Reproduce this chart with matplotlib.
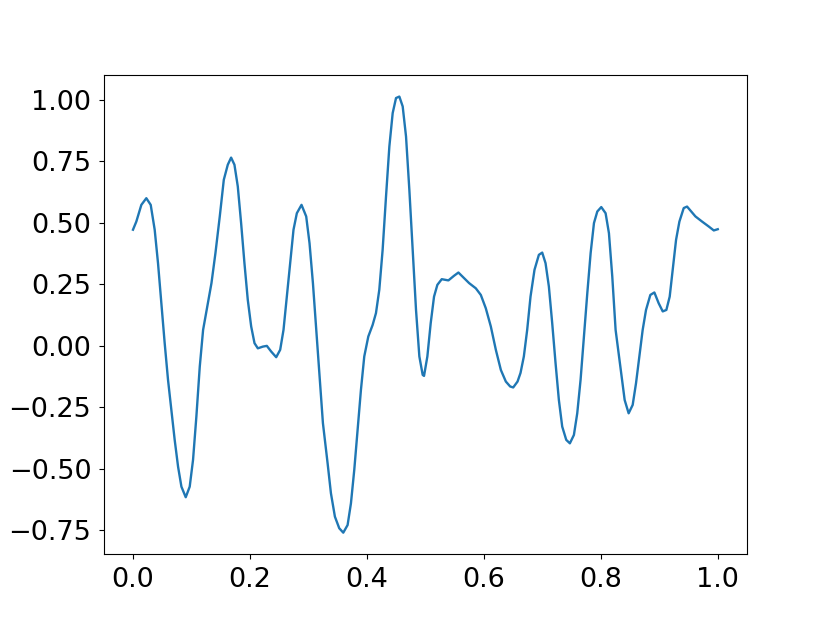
import matplotlib
matplotlib.use("Agg")
import matplotlib.pyplot as plt

# values
x = [0.000, 0.0057, 0.0143, 0.0228, 0.0303, 0.0371, 0.0428, 0.0485, 0.0542, 0.0599,
     0.0656, 0.0713, 0.0771, 0.0828, 0.0902, 0.0970, 0.1027, 0.1084, 0.1142, 0.1199,
     0.1256, 0.1342, 0.1410, 0.1484, 0.1553, 0.1621, 0.1678, 0.1735, 0.1792, 0.1849,
     0.1906, 0.1963, 0.2021, 0.2078, 0.2135, 0.2221, 0.2289, 0.2363, 0.2449, 0.2517,
     0.2574, 0.2631, 0.2688, 0.2745, 0.2802, 0.2882, 0.2962, 0.3019, 0.3077, 0.3134,
     0.3191, 0.3248, 0.3328, 0.3385, 0.3453, 0.3527, 0.3596, 0.3670, 0.3727, 0.3784,
     0.3841, 0.3898, 0.3955, 0.4024, 0.4098, 0.4155, 0.4212, 0.4269, 0.4327, 0.4384,
     0.4441, 0.4498, 0.4555, 0.4612, 0.4669, 0.4726, 0.4783, 0.4840, 0.4897, 0.4954,
     0.4977, 0.5034, 0.5091, 0.5148, 0.5205, 0.5280, 0.5394, 0.5491, 0.5565, 0.5662,
     0.5748, 0.5862, 0.5948, 0.6033, 0.6119, 0.6205, 0.6291, 0.6376, 0.6450, 0.6502,
     0.6576, 0.6627, 0.6684, 0.6741, 0.6798, 0.6866, 0.6941, 0.6998, 0.7055, 0.7112,
     0.7169, 0.7226, 0.7283, 0.7340, 0.7409, 0.7471, 0.7540, 0.7597, 0.7654, 0.7712,
     0.7769, 0.7826, 0.7883, 0.7940, 0.8008, 0.8082, 0.8139, 0.8196, 0.8253, 0.8310,
     0.8350, 0.8408, 0.8476, 0.8545, 0.8602, 0.8659, 0.8716, 0.8773, 0.8847, 0.8916,
     0.8990, 0.9059, 0.9121, 0.9178, 0.9230, 0.9287, 0.9344, 0.9418, 0.9475, 0.9532,
     0.9618, 0.9732, 0.9846, 0.9932, 1.0000]
y = [0.472, 0.505, 0.573, 0.600, 0.573, 0.472, 0.336, 0.173, 0.011, -0.138,
     -0.260, -0.382, -0.491, -0.572, -0.615, -0.572, -0.463, -0.287, -0.084, 0.065,
     0.140, 0.255, 0.377, 0.526, 0.675, 0.736, 0.765, 0.736, 0.648, 0.499,
     0.336, 0.187, 0.079, 0.011, -0.010, -0.003, 0.000, -0.023, -0.046, -0.016,
     0.065, 0.200, 0.336, 0.472, 0.539, 0.573, 0.526, 0.417, 0.255, 0.065,
     -0.125, -0.314, -0.477, -0.599, -0.694, -0.741, -0.759, -0.728, -0.640, -0.504,
     -0.341, -0.179, -0.043, 0.038, 0.085, 0.133, 0.228, 0.390, 0.607, 0.810,
     0.946, 1.007, 1.013, 0.973, 0.851, 0.634, 0.390, 0.146, -0.043, -0.118,
     -0.122, -0.043, 0.092, 0.200, 0.248, 0.271, 0.266, 0.285, 0.298, 0.275,
     0.255, 0.234, 0.207, 0.153, 0.079, -0.016, -0.098, -0.145, -0.165, -0.169,
     -0.145, -0.110, -0.043, 0.065, 0.200, 0.309, 0.370, 0.379, 0.336, 0.241,
     0.092, -0.070, -0.220, -0.328, -0.382, -0.396, -0.362, -0.274, -0.138, 0.038,
     0.214, 0.377, 0.499, 0.546, 0.564, 0.539, 0.458, 0.282, 0.065, -0.040,
     -0.111, -0.220, -0.274, -0.240, -0.152, -0.043, 0.065, 0.146, 0.207, 0.217,
     0.173, 0.140, 0.146, 0.200, 0.309, 0.431, 0.505, 0.560, 0.566, 0.550,
     0.526, 0.505, 0.485, 0.469, 0.474]

fig, ax = plt.subplots(figsize=(8.3, 6.23), dpi=100)
ax.plot(x, y, color='#1f77b4', lw=1.7)
ax.set_xticks([0.0, 0.2, 0.4, 0.6, 0.8, 1.0])
ax.set_yticks([-0.75, -0.5, -0.25, 0.0, 0.25, 0.5, 0.75, 1.0])
ax.tick_params(labelsize=19.5, pad=5.5)
fig.savefig("out.png", dpi=100)
